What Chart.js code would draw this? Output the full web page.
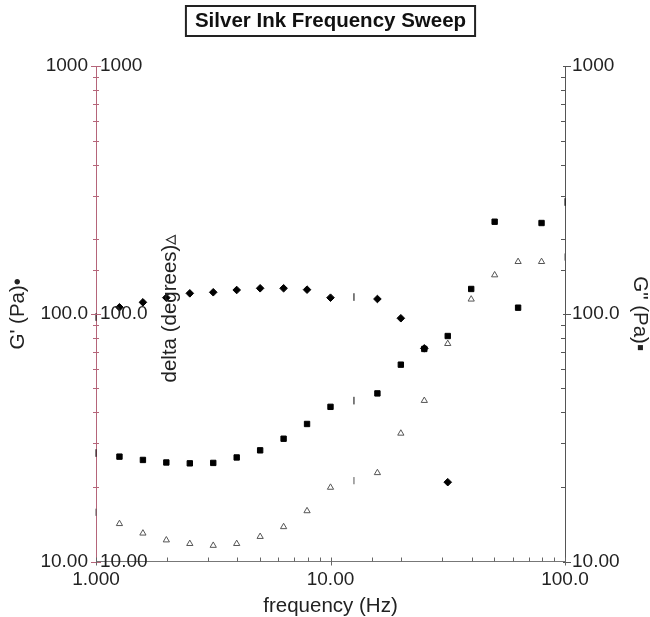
<!DOCTYPE html>
<html>
<head>
<meta charset="utf-8">
<script src="https://cdn.jsdelivr.net/npm/chart.js@4/dist/chart.umd.min.js"></script>
<style>
  body { margin: 0; background: #fff; }
  #wrap { width: 650px; height: 617px; }
</style>
</head>
<body>
<div id="wrap"><canvas id="chart" width="650" height="617"></canvas></div>
<script>
// frequency sweep, 10 points per decade
const freq = [1.0, 1.259, 1.585, 1.995, 2.512, 3.162, 3.981, 5.012, 6.310, 7.943,
  10.0, 12.59, 15.85, 19.95, 25.12, 31.62, 39.81, 50.12, 63.10, 79.43, 100.0];
const gPrime = [97.0, 106.2, 111.2, 116.1, 120.9, 122.1, 124.7, 126.7, 126.7, 125.1,
  116.1, 116.8, 114.7, 95.9, 72.5, 20.9, null, null, null, null, null];
const gDoublePrime = [27.4, 26.5, 25.7, 25.1, 24.9, 25.0, 26.3, 28.1, 31.3, 35.9,
  42.1, 44.6, 47.7, 62.3, 72.1, 81.3, 125.9, 235.2, 105.8, 232.4, 282.5];
const delta = [15.8, 14.2, 13.0, 12.2, 11.8, 11.6, 11.8, 12.6, 13.8, 16.0,
  19.9, 21.2, 22.8, 32.9, 44.6, 75.7, 114.4, 143.3, 162.2, 162.2, 169.4];

const xTickValues = [1, 10, 100];
const xTickText = ['1.000', '10.00', '100.0'];
const yTickValues = [10, 100, 1000];
const yTickText = ['10.00', '100.0', '1000'];

const FONT = "'Liberation Sans', Arial, sans-serif";
Chart.defaults.font.family = FONT;
Chart.defaults.color = '#222';

const toPoints = ys => freq.map((f, i) => ({ x: f, y: ys[i] }));
const labelFor = (values, texts) => v => {
  const i = values.indexOf(v);
  return i >= 0 ? texts[i] : '';
};

// points drawn as small "1"-like glyphs in the original
const oddPoints = [0, 11, 20];
const styleFor = normal => c => oddPoints.includes(c.dataIndex) ? 'line' : normal;
const rotFor = c => oddPoints.includes(c.dataIndex) ? 90 : 0;

// title box, delta axis labels and axis tick marks
const decorPlugin = {
  id: 'decor',
  afterDraw(chart) {
    const { ctx, chartArea: a, scales } = chart;
    ctx.save();

    // title
    const title = 'Silver Ink Frequency Sweep';
    ctx.font = 'bold 20.5px ' + FONT;
    const tw = ctx.measureText(title).width;
    const cx = (a.left + a.right) / 2;
    ctx.fillStyle = '#111';
    ctx.textAlign = 'center';
    ctx.textBaseline = 'middle';
    ctx.fillText(title, cx, 21);
    ctx.strokeStyle = '#222';
    ctx.lineWidth = 2;
    ctx.strokeRect(cx - tw / 2 - 9, 6, tw + 18, 30);

    // left axis ticks (crossing)
    ctx.lineWidth = 1;
    ctx.strokeStyle = '#b5657a';
    scales.y.ticks.forEach(t => {
      const py = Math.round(scales.y.getPixelForValue(t.value)) + 0.5;
      const len = yTickValues.includes(t.value) ? 5 : 3;
      ctx.beginPath();
      ctx.moveTo(a.left - len, py);
      ctx.lineTo(a.left + len, py);
      ctx.stroke();
    });

    // right axis ticks (minor inward, major outward)
    ctx.strokeStyle = '#555';
    scales.y2.ticks.forEach(t => {
      const py = Math.round(scales.y2.getPixelForValue(t.value)) + 0.5;
      const major = yTickValues.includes(t.value);
      ctx.beginPath();
      ctx.moveTo(major ? a.right - 2 : a.right - 4, py);
      ctx.lineTo(major ? a.right + 6 : a.right, py);
      ctx.stroke();
    });

    // x axis ticks
    ctx.strokeStyle = '#666';
    scales.x.ticks.forEach(t => {
      const px = Math.round(scales.x.getPixelForValue(t.value)) + 0.5;
      const major = xTickValues.includes(t.value);
      ctx.beginPath();
      ctx.moveTo(px, a.bottom - 4);
      ctx.lineTo(px, major ? a.bottom + 4 : a.bottom);
      ctx.stroke();
    });

    // delta axis labels, inside the plot next to the left axis
    ctx.font = '19px ' + FONT;
    ctx.fillStyle = '#222';
    ctx.textAlign = 'left';
    ctx.textBaseline = 'middle';
    yTickValues.forEach((v, i) => {
      ctx.fillText(yTickText[i], a.left + 4, scales.yd.getPixelForValue(v));
    });

    // delta axis title
    ctx.font = '20.5px ' + FONT;
    ctx.translate(a.left + 74, a.top + 242);
    ctx.rotate(-Math.PI / 2);
    ctx.textAlign = 'center';
    ctx.fillText('delta (degrees)\u25B5', 0, 0);
    ctx.restore();
  }
};

new Chart(document.getElementById('chart'), {
  type: 'scatter',
  data: {
    datasets: [
      {
        label: "G'",
        data: toPoints(gPrime),
        yAxisID: 'y',
        pointStyle: styleFor('rectRot'),
        rotation: rotFor,
        pointRadius: 3.8,
        backgroundColor: '#000',
        borderColor: '#000',
        borderWidth: 1,
        clip: false
      },
      {
        label: 'G"',
        data: toPoints(gDoublePrime),
        yAxisID: 'y2',
        pointStyle: styleFor('rect'),
        rotation: rotFor,
        pointRadius: 3.8,
        backgroundColor: '#000',
        borderColor: '#000',
        borderWidth: 1,
        clip: false
      },
      {
        label: 'delta',
        data: toPoints(delta),
        yAxisID: 'yd',
        pointStyle: styleFor('triangle'),
        rotation: rotFor,
        pointRadius: 3.6,
        backgroundColor: '#fff',
        borderColor: '#555',
        borderWidth: 1,
        clip: false
      }
    ]
  },
  options: {
    responsive: false,
    animation: false,
    layout: { padding: { top: 66, left: 0, right: 0, bottom: 0 }, autoPadding: false },
    plugins: {
      legend: { display: false },
      tooltip: { enabled: false },
      title: { display: false }
    },
    scales: {
      x: {
        type: 'logarithmic',
        min: 1,
        max: 100,
        grid: { display: false, drawTicks: false },
        border: { display: true, color: '#777', width: 1 },
        ticks: {
          autoSkip: false,
          maxRotation: 0,
          padding: 7,
          font: { size: 19 },
          callback: labelFor(xTickValues, xTickText)
        },
        title: {
          display: true,
          text: 'frequency (Hz)',
          font: { size: 20.5, lineHeight: 1 },
          padding: { top: 0, bottom: 0.5 }
        },
        afterFit: s => { s.height = 55.5; }
      },
      y: {
        type: 'logarithmic',
        position: 'left',
        min: 10,
        max: 1000,
        grid: { display: false, drawTicks: false },
        border: { display: true, color: '#b5657a', width: 1 },
        ticks: {
          autoSkip: false,
          padding: 8,
          font: { size: 19 },
          callback: labelFor(yTickValues, yTickText)
        },
        title: {
          display: true,
          text: "G' (Pa)\u2022",
          font: { size: 20.5, lineHeight: 1 },
          padding: { top: 8.5, bottom: 0 }
        },
        afterFit: s => { s.width = 96; }
      },
      y2: {
        type: 'logarithmic',
        position: 'right',
        min: 10,
        max: 1000,
        grid: { display: false, drawTicks: false },
        border: { display: true, color: '#555', width: 1 },
        ticks: {
          autoSkip: false,
          padding: 7,
          font: { size: 19 },
          callback: labelFor(yTickValues, yTickText)
        },
        title: {
          display: true,
          text: 'G" (Pa)\u25AA',
          font: { size: 20.5, lineHeight: 1 },
          padding: { top: 0, bottom: 0 }
        },
        afterFit: s => { s.width = 85; }
      },
      yd: {
        type: 'logarithmic',
        display: false,
        min: 10,
        max: 1000
      }
    }
  },
  plugins: [decorPlugin]
});
</script>
</body>
</html>
